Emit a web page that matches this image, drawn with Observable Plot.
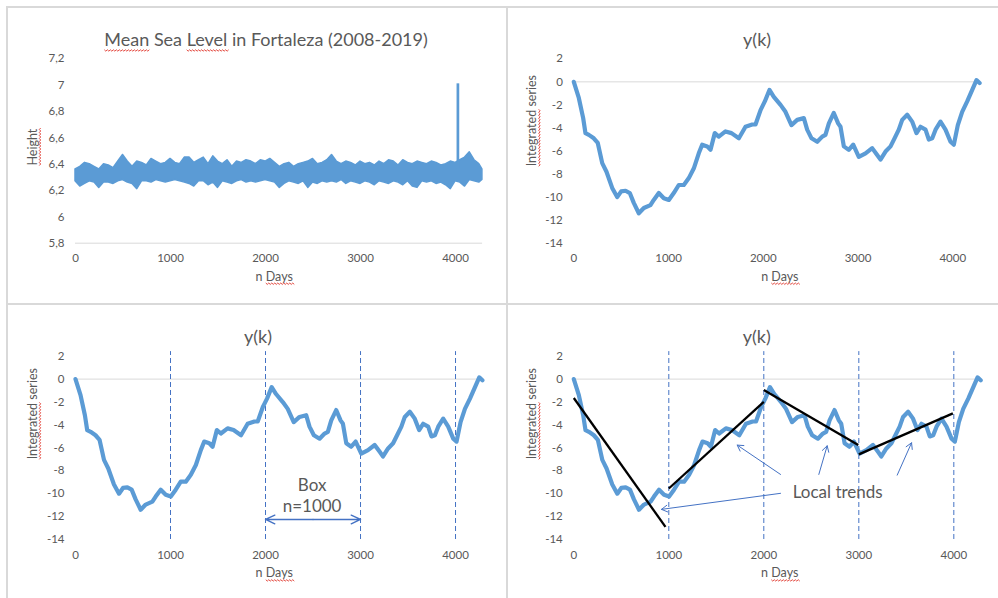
<!DOCTYPE html>
<html><head><meta charset="utf-8">
<script src="https://cdn.jsdelivr.net/npm/d3@7"></script>
<script src="https://cdn.jsdelivr.net/npm/@observablehq/plot@0.6"></script>
<style>
html,body{margin:0;padding:0;background:#fff}
body{width:998px;height:598px;overflow:hidden;position:relative;font-family:Lato,sans-serif}
.panel{position:absolute}
.bl{position:absolute;background:#d9d9d9}
</style></head><body>
<div class="bl" style="left:7px;top:6px;width:991px;height:2px"></div>
<div class="bl" style="left:6px;top:6px;width:2px;height:592px"></div>
<div class="bl" style="left:506px;top:6px;width:2px;height:592px"></div>
<div class="bl" style="left:7px;top:303px;width:991px;height:2px"></div>
<div id="p1" class="panel" style="left:8px;top:8px"></div>
<div id="p2" class="panel" style="left:508px;top:8px"></div>
<div id="p3" class="panel" style="left:8px;top:305px"></div>
<div id="p4" class="panel" style="left:508px;top:305px"></div>
<script>
// ---- data ----
const bandDays  = [0,50,100,150,200,250,300,350,400,450,500,550,600,650,700,750,800,850,900,950,1000,1050,1100,1150,1200,1250,1300,1350,1400,1450,1500,1550,1600,1650,1700,1750,1800,1850,1900,1950,2000,2050,2100,2150,2200,2250,2300,2350,2400,2450,2500,2550,2600,2650,2700,2750,2800,2850,2900,2950,3000,3050,3100,3150,3200,3250,3300,3350,3400,3450,3500,3550,3600,3650,3700,3750,3800,3850,3900,3950,4000,4050,4100,4150,4200,4250,4283];
const bandUpper = [6.36,6.38,6.41,6.40,6.38,6.36,6.40,6.39,6.37,6.42,6.47,6.42,6.38,6.42,6.41,6.39,6.44,6.42,6.40,6.41,6.44,6.41,6.40,6.45,6.45,6.41,6.43,6.45,6.40,6.46,6.42,6.40,6.43,6.38,6.42,6.41,6.43,6.42,6.40,6.43,6.42,6.44,6.41,6.38,6.40,6.41,6.38,6.40,6.41,6.42,6.44,6.40,6.41,6.43,6.47,6.42,6.40,6.42,6.41,6.39,6.42,6.40,6.41,6.39,6.42,6.40,6.43,6.42,6.39,6.43,6.41,6.40,6.42,6.41,6.40,6.42,6.41,6.39,6.40,6.42,6.41,6.43,6.45,6.49,6.43,6.40,6.36];
const bandLower = [6.27,6.23,6.25,6.27,6.26,6.22,6.26,6.26,6.25,6.27,6.28,6.26,6.25,6.21,6.27,6.27,6.26,6.28,6.27,6.26,6.27,6.28,6.27,6.26,6.25,6.23,6.27,6.27,6.24,6.26,6.22,6.27,6.26,6.25,6.27,6.28,6.26,6.27,6.26,6.27,6.28,6.27,6.26,6.22,6.25,6.27,6.26,6.25,6.27,6.22,6.26,6.25,6.27,6.26,6.27,6.26,6.28,6.25,6.27,6.26,6.25,6.27,6.26,6.24,6.27,6.26,6.25,6.27,6.26,6.24,6.27,6.23,6.22,6.27,6.26,6.27,6.25,6.26,6.24,6.21,6.27,6.26,6.23,6.28,6.27,6.26,6.28];
const spikeDay = 4025, spikeBase = 6.36, spikeTop = 7.01;

const ykDays   = [0,53,99,123,159,211,253,300,345,405,458,500,546,591,633,686,739,809,844,897,950,1003,1055,1108,1161,1214,1267,1319,1355,1408,1443,1488,1530,1601,1664,1742,1812,1883,1918,1971,2016,2065,2111,2182,2234,2297,2358,2428,2463,2509,2569,2622,2656,2692,2744,2790,2815,2850,2902,2949,3008,3079,3149,3202,3237,3290,3343,3385,3430,3466,3519,3571,3617,3659,3712,3747,3783,3818,3870,3923,3976,4011,4053,4099,4152,4205,4250,4283];
const ykValues = [0,-1.4,-3.15,-4.45,-4.6,-4.9,-5.3,-7.05,-7.8,-9.2,-10.0,-9.5,-9.45,-9.65,-10.5,-11.4,-10.95,-10.7,-10.25,-9.65,-10.1,-10.25,-9.65,-8.95,-8.95,-8.35,-7.5,-6.2,-5.45,-5.6,-5.9,-4.45,-4.75,-4.3,-4.45,-4.9,-3.9,-3.7,-3.7,-2.45,-1.7,-0.7,-1.3,-2.0,-2.6,-3.75,-3.3,-3.15,-4.15,-4.9,-5.2,-4.75,-4.6,-3.6,-2.7,-3.6,-3.9,-5.6,-5.9,-5.45,-6.5,-6.2,-5.75,-6.35,-6.75,-6.05,-5.6,-4.9,-4.15,-3.3,-2.85,-3.45,-4.45,-3.9,-4.15,-5.0,-4.9,-4.15,-3.45,-4.15,-5.2,-5.45,-3.75,-2.6,-1.7,-0.7,0.15,-0.1];

const boxEdges = [1000, 2000, 3000, 4000];
const boxSpanFrom = 2000, boxSpanMid = 2500, boxSpanTo = 3000, boxSpanY = -12.25;
const boxLabels = ["Box", "n=1000"], boxLabelX = [2490, 2490], boxLabelY = [-9.25, -11.14];

const trendX1 = [0, 1000, 2000, 3000], trendY1 = [-1.65, -9.55, -0.95, -6.57];
const trendX2 = [965, 2000, 2994, 3990], trendY2 = [-12.9, -1.98, -5.76, -2.99];
const pointerX1 = [2176, 2176, 2579, 3404], pointerY1 = [-9.97, -8.32, -8.32, -8.38];
const pointerX2 = [923, 1720, 2667, 3555], pointerY2 = [-11.37, -5.76, -5.82, -5.56];
const trendLabel = "Local trends", trendLabelX = 2778, trendLabelY = -9.92;

const xTicks = [0, 1000, 2000, 3000, 4000];
const xTickLabels = ["0", "1000", "2000", "3000", "4000"];
const hTicks = [5.8, 6, 6.2, 6.4, 6.6, 6.8, 7, 7.2];
const hTickLabels = ["5,8", "6", "6,2", "6,4", "6,6", "6,8", "7", "7,2"];
const yTicks = [2, 0, -2, -4, -6, -8, -10, -12, -14];
const yTickLabels = ["2", "0", "-2", "-4", "-6", "-8", "-10", "-12", "-14"];
const XMAX = 4285;

// ---- tables ----
const band = bandDays.map((d, i) => ({d, lo: bandLower[i], hi: bandUpper[i]}));
const yk = ykDays.map((d, i) => ({d, v: ykValues[i]}));
const trends = trendX1.map((x, i) => ({x1: x, y1: trendY1[i], x2: trendX2[i], y2: trendY2[i]}));
const pointers = pointerX1.map((x, i) => ({x1: x, y1: pointerY1[i], x2: pointerX2[i], y2: pointerY2[i]}));
const boxText = boxLabels.map((t, i) => ({t, x: boxLabelX[i], y: boxLabelY[i]}));
const boxArrows = [
  {x1: boxSpanMid, x2: boxSpanFrom, y: boxSpanY},
  {x1: boxSpanMid, x2: boxSpanTo, y: boxSpanY}
];

const BLUE = "#5b9bd5", DASH = "#4472c4", GREY = "#595959";

function panel(cfg) {
  const {ticks, tickLabels, ydomain, baseline} = cfg;
  return Plot.plot({
    width: cfg.width, height: cfg.height,
    marginLeft: cfg.ml, marginRight: cfg.mr, marginTop: cfg.mt, marginBottom: cfg.mb,
    style: {fontFamily: "Lato, sans-serif", fontSize: "11.5px", color: GREY, background: "transparent", overflow: "visible"},
    x: {domain: [0, XMAX], axis: null},
    y: {domain: ydomain, axis: null},
    marks: [
      Plot.ruleY([baseline], {stroke: "#d9d9d9", strokeWidth: 1}),
      Plot.axisX(xTicks, {tickSize: 0, tickPadding: 11, tickFormat: d => xTickLabels[xTicks.indexOf(d)], label: null, fill: GREY}),
      Plot.axisY(ticks, {tickSize: 0, tickPadding: 11, tickFormat: d => tickLabels[ticks.indexOf(d)], label: null, fill: GREY}),
      Plot.text([cfg.title], {frameAnchor: "top", dx: cfg.tdx, dy: cfg.tdy, fontSize: cfg.tsize || 18, fill: GREY}),
      Plot.text([cfg.ylabel], {frameAnchor: "left", rotate: -90, dx: cfg.ydx, dy: cfg.ydy, fontSize: 12.5, fill: GREY}),
      Plot.text(["n Days"], {frameAnchor: "bottom", dx: cfg.xdx, dy: cfg.xdy, fontSize: 12.5, fill: GREY}),
      ...cfg.marks
    ]
  });
}

// Word's red spell-check squiggles under some words, as in the source image
const squiggled = new Set(["Mean", "Level", "Height", "Days", "Integrated"]);
function squiggle(svg) {
  const NS = "http://www.w3.org/2000/svg";
  svg.querySelectorAll("text").forEach(t => {
    if (t.children.length) return;
    const s = t.textContent;
    const parts = s.split(/(\s+)/);
    if (!parts.some(w => squiggled.has(w))) return;
    t.textContent = "";
    const marked = [];
    parts.forEach(w => {
      const ts = document.createElementNS(NS, "tspan");
      ts.textContent = w;
      t.appendChild(ts);
      if (squiggled.has(w)) marked.push(ts);
    });
    marked.forEach(ts => {
      const bb = ts.getBBox();
      const y0 = bb.y + bb.height - 0.5;
      let d = `M${bb.x},${y0}`;
      for (let x = bb.x, k = 0; x < bb.x + bb.width; x += 1.5, k++) d += `L${x + 1.5},${y0 + (k % 2 ? 0 : 1.4)}`;
      const p = document.createElementNS(NS, "path");
      p.setAttribute("d", d);
      p.setAttribute("fill", "none");
      p.setAttribute("stroke", "#e0392f");
      p.setAttribute("stroke-width", "0.9");
      if (t.getAttribute("transform")) p.setAttribute("transform", t.getAttribute("transform"));
      t.parentNode.appendChild(p);
    });
  });
}

const ykLine = Plot.line(yk, {x: "d", y: "v", stroke: BLUE, strokeWidth: 4.2, strokeLinejoin: "round"});
const dashes = Plot.ruleX(boxEdges, {y1: -14, y2: 2.4, stroke: DASH, strokeWidth: 1, strokeDasharray: "5,3"});

function mount(id, svg) { document.getElementById(id).appendChild(svg); squiggle(svg); }

mount("p1", panel({
  width: 499, height: 296, ml: 67, mr: 24.9, mt: 50.3, mb: 61.3,
  ydomain: [5.8, 7.2], ticks: hTicks, tickLabels: hTickLabels, baseline: 5.8,
  title: "Mean Sea Level in Fortaleza (2008-2019)", tdx: -13, tdy: -25.3, tsize: 18,
  ylabel: "Height", ydx: -42.7, ydy: 14.5, xdx: -4.8, xdy: 37.3,
  marks: [
    Plot.areaY(band, {x: "d", y1: "lo", y2: "hi", fill: BLUE, stroke: BLUE, strokeWidth: 1.5, strokeLinejoin: "round"}),
    Plot.ruleX([spikeDay], {y1: spikeBase, y2: spikeTop, stroke: BLUE, strokeWidth: 2.7})
  ]
}));

mount("p2", panel({
  width: 489, height: 296, ml: 65.3, mr: 17.7, mt: 50.3, mb: 61.3,
  ydomain: [-14, 2], ticks: yTicks, tickLabels: yTickLabels, baseline: 0,
  title: "y(k)", tdx: -19.7, tdy: -26,
  ylabel: "Integrated series", ydx: -41.6, ydy: 15.3, xdx: 3, xdy: 37.3,
  marks: [ykLine]
}));

mount("p3", panel({
  width: 499, height: 293, ml: 67, mr: 24.9, mt: 50.7, mb: 59,
  ydomain: [-14, 2], ticks: yTicks, tickLabels: yTickLabels, baseline: 0,
  title: "y(k)", tdx: -21, tdy: -26.4,
  ylabel: "Integrated series", ydx: -42.7, ydy: 11.5, xdx: -4.8, xdy: 37.7,
  marks: [
    dashes,
    ykLine,
    Plot.arrow(boxArrows, {x1: "x1", x2: "x2", y1: "y", y2: "y", stroke: DASH, strokeWidth: 1.4, headLength: 11, headAngle: 50}),
    Plot.text(boxText, {x: "x", y: "y", text: "t", fontSize: 17, fill: GREY})
  ]
}));

mount("p4", panel({
  width: 489, height: 293, ml: 65.3, mr: 16.6, mt: 50.7, mb: 59,
  ydomain: [-14, 2], ticks: yTicks, tickLabels: yTickLabels, baseline: 0,
  title: "y(k)", tdx: -20.6, tdy: -26.4,
  ylabel: "Integrated series", ydx: -41.6, ydy: 11.5, xdx: 2.4, xdy: 37.7,
  marks: [
    dashes,
    ykLine,
    Plot.link(trends, {x1: "x1", y1: "y1", x2: "x2", y2: "y2", stroke: "#000", strokeWidth: 2.3}),
    Plot.arrow(pointers, {x1: "x1", y1: "y1", x2: "x2", y2: "y2", stroke: DASH, strokeWidth: 1, headLength: 10}),
    Plot.text([trendLabel], {x: trendLabelX, y: trendLabelY, fontSize: 17, fill: GREY})
  ]
}));
</script>
</body></html>
